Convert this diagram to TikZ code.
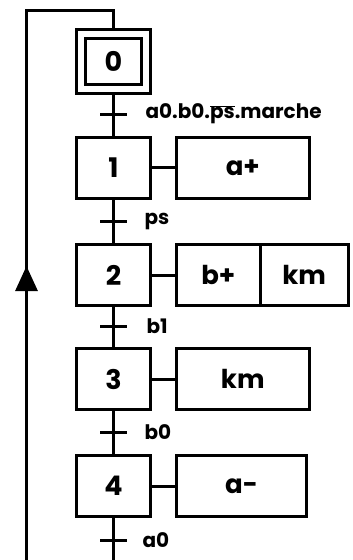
\documentclass[tikz,border=0pt]{standalone}
\usepackage{fontspec}
\setmainfont{Poppins}
\usetikzlibrary{arrows.meta,decorations.markings}
\begin{document}
\begin{tikzpicture}[x=1pt,y=-1pt,line width=3pt,
  stepbox/.style={draw,rectangle,minimum width=74pt,minimum height=61pt,inner sep=0pt,
    font=\fontsize{27}{27}\selectfont\bfseries},
  actbox/.style={draw,rectangle,minimum height=61pt,inner sep=0pt,
    font=\fontsize{26}{26}\selectfont\bfseries},
  trlabel/.style={anchor=west,inner sep=0pt,font=\fontsize{20}{20}\selectfont\bfseries},
  tickmark/.style={line width=3pt},
  loopline/.style={postaction={decorate},decoration={markings,
    mark=at position 295pt with {\arrow{Triangle[width=22pt,length=25pt]}}}}]
\useasboundingbox (0,0) rectangle (353,560);
% initial step
\node[draw,rectangle,minimum width=74pt,minimum height=63.5pt,inner sep=0pt] (s0) at (113.5,61.7) {};
\node[draw,rectangle,minimum width=56pt,minimum height=46.5pt,inner sep=0pt,
  font=\fontsize{27}{27}\selectfont\bfseries] (s0i) at (113.5,61.7) {0};
% steps
\node[stepbox] (s1) at (113.5,167.5) {1};
\node[stepbox] (s2) at (113.5,275) {2};
\node[stepbox] (s3) at (113.5,379) {3};
\node[stepbox] (s4) at (113.5,486) {4};
% actions
\node[actbox,minimum width=132.5pt] (a1) at (242.75,167.5) {a+};
\node[actbox,minimum width=83.5pt] (a2a) at (218.25,275) {b+};
\node[actbox,minimum width=88.3pt] (a2b) at (304.15,275) {km};
\node[actbox,minimum width=132.5pt] (a3) at (242.75,379) {km};
\node[actbox,minimum width=130pt] (a4) at (241.5,486) {a-};
% links
\draw (s1.east) -- (a1.west);
\draw (s2.east) -- (a2a.west);
\draw (s3.east) -- (a3.west);
\draw (s4.east) -- (a4.west);
% transitions
\coordinate (t1) at (113.5,114);
\coordinate (t2) at (113.5,221);
\coordinate (t3) at (113.5,326);
\coordinate (t4) at (113.5,432);
\coordinate (t5) at (113.5,540);
\coordinate (bot) at (113.5,561);
\draw (s0) -- (s1);
\draw (s1) -- (s2);
\draw (s2) -- (s3);
\draw (s3) -- (s4);
\draw (s4) -- (bot);
\foreach \t in {t1,t2,t3,t4,t5}{
  \draw[tickmark] ([xshift=-13.5pt]\t) -- ([xshift=13.5pt]\t);
}
\node[trlabel] (l1) at (144,114) {a0.b0.$\overline{\mbox{ps}}$.marche};
\node[trlabel] (l2) at (143,221) {ps};
\node[trlabel] (l3) at (145,326) {b1};
\node[trlabel] (l4) at (143,432) {b0};
\node[trlabel] (l5) at (141,540) {a0};
% loop back
\coordinate (lb) at (26.5,561);
\coordinate (lt) at (26.5,10);
\draw[loopline] (lb) -- (lt) -| (s0.north);
\end{tikzpicture}
\end{document}
